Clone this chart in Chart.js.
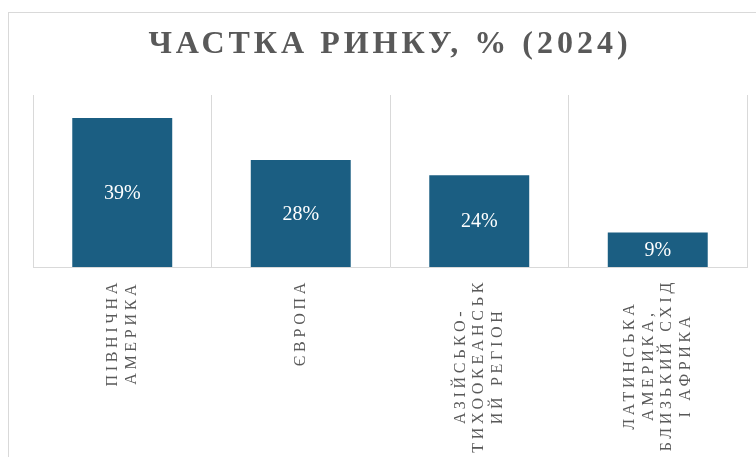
<!DOCTYPE html>
<html lang="uk">
<head>
<meta charset="UTF-8">
<title>Частка ринку, % (2024)</title>
<style>
  html, body { margin: 0; padding: 0; background: #fff; }
  #wrap { position: relative; width: 756px; height: 457px; overflow: hidden; }
  /* light frame around the chart, open to the right and bottom */
  #frame {
    position: absolute; left: 8px; top: 12px; width: 800px; height: 500px;
    border-left: 1px solid #d9d9d9; border-top: 1px solid #d9d9d9;
  }
  canvas { position: absolute; left: 0; top: 0; }
</style>
<script src="https://cdn.jsdelivr.net/npm/chart.js"></script>
</head>
<body>
<div id="wrap">
  <div id="frame"></div>
  <canvas id="shareChart" width="756" height="457"></canvas>
</div>

<script>
  // regions, one line per array entry
  const regions = [
    ['ПІВНІЧНА', 'АМЕРИКА'],
    ['ЄВРОПА'],
    ['АЗІЙСЬКО-', 'ТИХООКЕАНСЬК', 'ИЙ РЕГІОН'],
    ['ЛАТИНСЬКА', 'АМЕРИКА,', 'БЛИЗЬКИЙ СХІД', 'І АФРИКА']
  ];
  // market share, %
  const shares = [39, 28, 24, 9];
  const yMax = 45;

  const grey = '#595959';
  const gridGrey = '#d9d9d9';
  const barBlue = '#1b5e82';

  const titleSpacing = '4px';
  const tickSpacing = '3.7px';

  // letter spacing: wide for the title, none for the bar values, medium for the region names
  // (tick labels use z: 1 so they are drawn after the datasets)
  const spacing = {
    id: 'spacing',
    beforeDraw(chart) { chart.ctx.letterSpacing = titleSpacing; },
    beforeDatasetsDraw(chart) { chart.ctx.letterSpacing = '0px'; },
    afterDatasetsDraw(chart) { chart.ctx.letterSpacing = tickSpacing; },
    afterDraw(chart) { chart.ctx.letterSpacing = '0px'; }
  };

  // rotated multi-line labels: stack lines around the tick and center them on each other
  const centerTickLines = {
    id: 'centerTickLines',
    beforeDraw(chart) {
      const ctx = chart.ctx;
      chart.scales.x.getLabelItems().forEach(item => {
        if (item.centered) return;
        const lines = [].concat(item.label);
        ctx.save();
        ctx.font = item.font.string;
        ctx.letterSpacing = tickSpacing;
        const w = Math.max(...lines.map(l => ctx.measureText(l).width));
        ctx.restore();
        const lh = item.font.lineHeight;
        const [x, y] = item.options.translation;
        item.options.translation = [x - (lines.length - 1) * lh / 2, y + w / 2];
        item.options.textAlign = 'center';
        item.centered = true;
      });
    }
  };

  // value in the middle of each bar
  const barValueLabels = {
    id: 'barValueLabels',
    afterDatasetsDraw(chart) {
      const ctx = chart.ctx;
      ctx.save();
      ctx.letterSpacing = '0px';
      ctx.font = '20px "Liberation Serif"';
      ctx.fillStyle = '#ffffff';
      ctx.textAlign = 'center';
      ctx.textBaseline = 'middle';
      chart.getDatasetMeta(0).data.forEach((bar, i) => {
        ctx.fillText(shares[i] + '%', bar.x, (bar.y + bar.base) / 2 + 1);
      });
      ctx.restore();
    }
  };

  const ctx = document.getElementById('shareChart').getContext('2d');

  const shareChart = new Chart(ctx, {
    type: 'bar',
    data: {
      labels: regions,
      datasets: [{
        label: 'Частка ринку, %',
        data: shares,
        backgroundColor: barBlue,
        barPercentage: 0.56,
        categoryPercentage: 1
      }]
    },
    options: {
      responsive: false,
      animation: false,
      layout: { padding: { top: 26, left: 33, right: 9, bottom: 0 } },
      plugins: {
        legend: { display: false },
        tooltip: { enabled: false },
        title: {
          display: true,
          text: 'ЧАСТКА РИНКУ, % (2024)',
          color: grey,
          font: { family: '"Liberation Serif"', size: 32, weight: 'bold', lineHeight: 1.2 },
          padding: { top: 0, bottom: 30.6 }
        }
      },
      scales: {
        x: {
          grid: { color: gridGrey, lineWidth: 1, drawTicks: false, offset: true },
          border: { color: gridGrey, width: 1 },
          ticks: {
            color: grey,
            font: { family: '"Liberation Serif"', size: 16, lineHeight: 1.15 },
            minRotation: 90,
            maxRotation: 90,
            autoSkip: false,
            padding: 12,
            z: 1
          },
          afterFit(scale) { scale.height = 190; }
        },
        y: {
          display: false,
          min: 0,
          max: yMax
        }
      }
    },
    plugins: [spacing, centerTickLines, barValueLabels]
  });
</script>
</body>
</html>
